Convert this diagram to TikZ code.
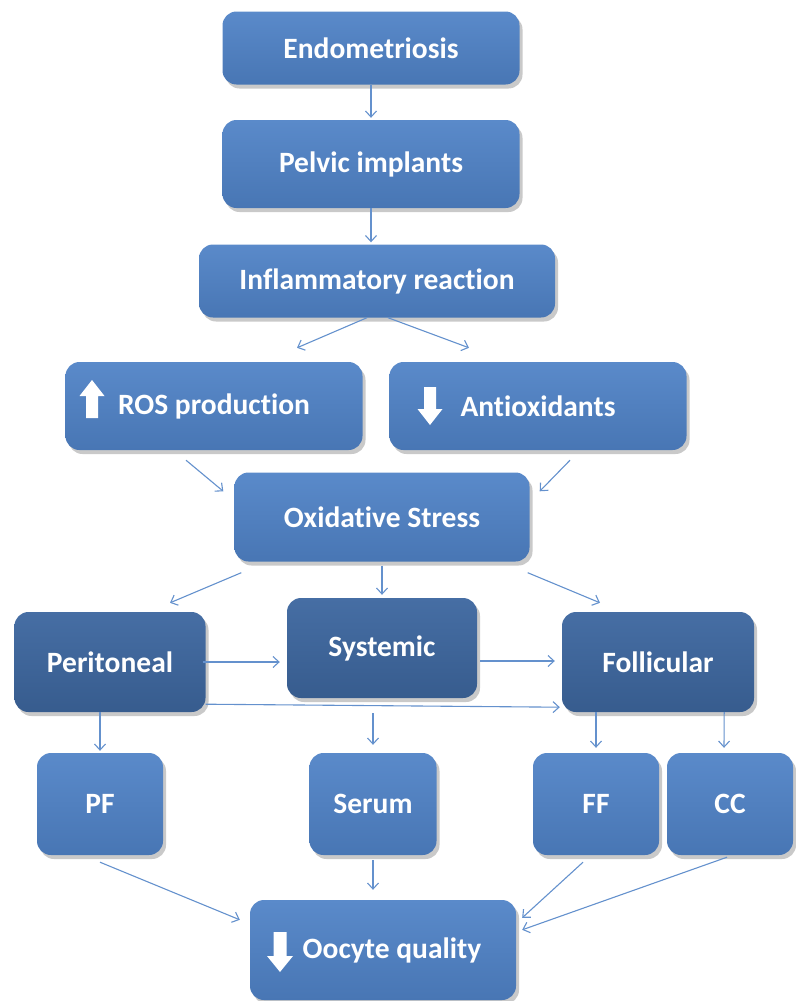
\documentclass[tikz,border=0pt]{standalone}
\usepackage{fontspec}
\setmainfont{Carlito}[Ligatures=NoCommon]
\usetikzlibrary{arrows.meta,calc,shadows}
\definecolor{boxtop}{RGB}{90,138,202}
\definecolor{boxbot}{RGB}{72,118,180}
\definecolor{dktop}{RGB}{70,110,164}
\definecolor{dkbot}{RGB}{55,92,142}
\definecolor{arrc}{RGB}{100,145,205}
\tikzset{
  box/.style={rounded corners=14pt, top color=boxtop, bottom color=boxbot,
    draw=none, text=white, font=\fontsize{29.5}{33}\selectfont\bfseries,
    drop shadow={shadow xshift=3pt, shadow yshift=-4pt, opacity=0.3, fill=black!70},
    inner sep=0pt, align=center},
  dkbox/.style={box, top color=dktop, bottom color=dkbot},
  arr/.style={draw=arrc, line width=1.1pt, -{Straight Barb[length=6pt,width=11pt]}},
  wht/.style={fill=white}
}
\begin{document}
\begin{tikzpicture}[x=1pt,y=-1pt]
\useasboundingbox (0,0) rectangle (795,1001);
\node[box, minimum width=297pt, minimum height=73pt] (endo) at (371,48) {Endometriosis};
\node[box, minimum width=297pt, minimum height=88pt] (pel) at (371,164) {Pelvic implants};
\node[box, minimum width=356pt, minimum height=73pt] (inf) at (377,281) {Inflammatory reaction};
\node[box, minimum width=297pt, minimum height=88pt] (ros) at (214,406) {ROS production};
\node[box, minimum width=297pt, minimum height=88pt] (anti) at (538,406) {Antioxidants};
\node[box, minimum width=295pt, minimum height=89pt] (ox) at (382,517) {Oxidative Stress};
\node[dkbox, minimum width=191pt, minimum height=100pt] (per) at (110,662) {Peritoneal};
\node[dkbox, minimum width=190pt, minimum height=100pt] (sys) at (382,648) {Systemic};
\node[dkbox, minimum width=192pt, minimum height=100pt] (fol) at (658,662) {Follicular};
\node[box, minimum width=126pt, minimum height=102pt] (pf) at (100,804) {PF};
\node[box, minimum width=127pt, minimum height=102pt] (ser) at (373,804) {Serum};
\node[box, minimum width=126pt, minimum height=102pt] (ff) at (596,804) {FF};
\node[box, minimum width=126pt, minimum height=102pt] (cc) at (730,804) {CC};
\node[box, minimum width=266pt, minimum height=100pt] (oo) at (383,950) {\hspace*{18pt}Oocyte quality};
% white up/down arrows
\fill[wht] ($(ros.center)+(-122,-26)$) -- ++(12.5,16) -- ++(-6.5,0) -- ++(0,22) -- ++(-12,0) -- ++(0,-22) -- ++(-6.5,0) -- cycle;
\fill[wht] ($(anti.center)+(-108,19)$) -- ++(12.5,-16) -- ++(-6.5,0) -- ++(0,-22) -- ++(-12,0) -- ++(0,22) -- ++(-6.5,0) -- cycle;
\fill[wht] ($(oo.center)+(-103,22)$) -- ++(13,-16) -- ++(-6.5,0) -- ++(0,-24) -- ++(-13,0) -- ++(0,24) -- ++(-6.5,0) -- cycle;
% connectors
\draw[arr] (endo.south) -- ($(pel.north)+(0,-2)$);
\draw[arr] (pel.south) -- ($(pel.south |- inf.north)+(0,-2)$);
\draw[arr] ($(inf.south)+(-10,0)$) -- ($(ros.north)+(83,-14)$);
\draw[arr] ($(inf.south)+(11,0)$) -- ($(anti.north)+(-69,-14)$);
\draw[arr] ($(ros.south)+(-28,10)$) -- ($(ox.north west)+(-11,19)$);
\draw[arr] ($(anti.south)+(32,10)$) -- ($(ox.north east)+(10,19)$);
\draw[arr] ($(ox.south west)+(7,11)$) -- ($(per.north)+(60,-9)$);
\draw[arr] ($(ox.south)+(0,4)$) -- ($(sys.north)+(0,-3)$);
\draw[arr] ($(ox.south east)+(-2,11)$) -- ($(fol.north)+(-58,-9)$);
\draw[arr] ($(per.east)+(-3,0)$) -- ($(sys.west |- per.east)+(-7,0)$);
\draw[arr] ($(sys.east)+(3,13)$) -- ($(fol.west)+(-7,-1)$);
\draw[arr] ($(per.south east)+(0,-8)$) -- ($(fol.south west)+(-2,-5)$);
\draw[arr] ($(per.south)+(-10,0)$) -- ($(pf.north)+(0,-2)$);
\draw[arr] ($(sys.south -| ser.north)+(0,15)$) -- ($(ser.north)+(0,-8)$);
\draw[arr] (ff.north |- fol.south) -- ($(ff.north)+(0,-5)$);
\draw[arr] ($(fol.south east)+(-30,0)$) -- ($(cc.north)+(-6,-5)$);
\draw[arr] ($(pf.south)+(0,7)$) -- ($(oo.north west)+(-10,20)$);
\draw[arr] ($(ser.south)+(0,5)$) -- ($(ser.south |- oo.north)+(0,-10)$);
\draw[arr] ($(ff.south)+(-13,7)$) -- ($(oo.north east)+(6,18)$);
\draw[arr] ($(cc.south)+(-3,2)$) -- ($(oo.north east)+(6,30)$);
\end{tikzpicture}
\end{document}
